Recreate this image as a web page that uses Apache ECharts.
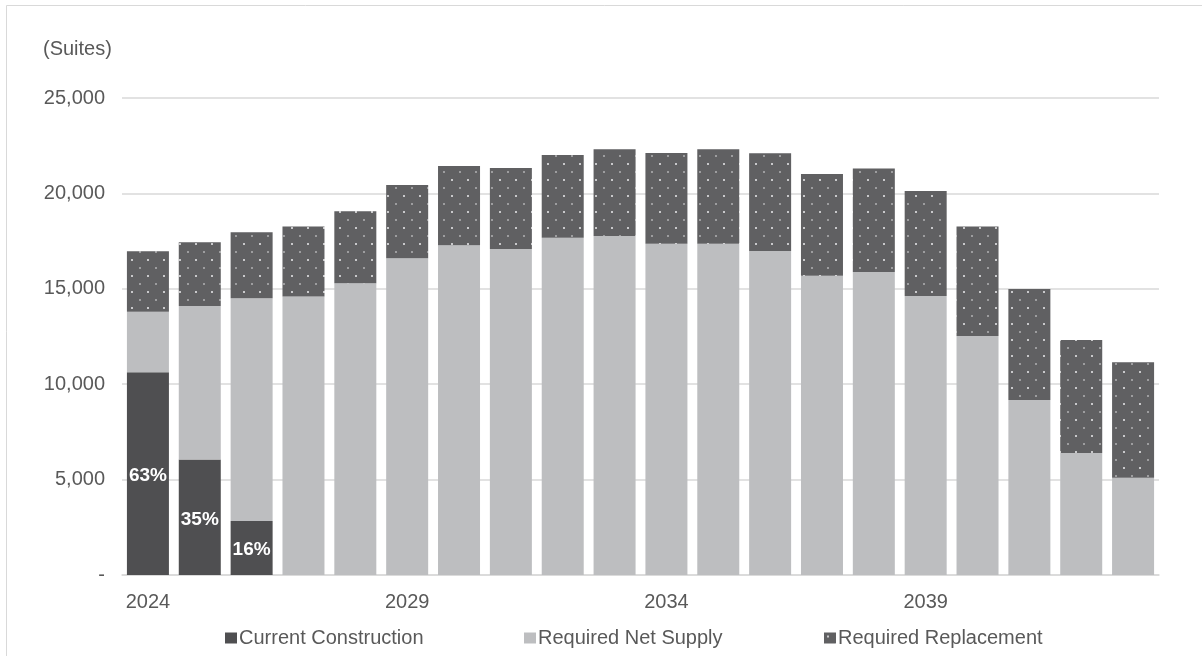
<!DOCTYPE html>
<html>
<head>
<meta charset="utf-8">
<script src="https://cdn.jsdelivr.net/npm/echarts@6/dist/echarts.min.js"></script>
<style>
  html, body { margin: 0; padding: 0; background: #fff; }
  #chart { width: 1202px; height: 656px; }
</style>
</head>
<body>
<div id="chart"></div>
<script>
const years = ['2024','2025','2026','2027','2028','2029','2030','2031','2032','2033','2034','2035','2036','2037','2038','2039','2040','2041','2042','2043'];
const currentConstruction = [10620, 6050, 2830, null, null, null, null, null, null, null, null, null, null, null, null, null, null, null, null, null];
const ccLabels = ['63%', '35%', '16%'];
const requiredNetSupply = [3180, 8050, 11670, 14590, 15290, 16600, 17280, 17090, 17680, 17770, 17360, 17360, 16980, 15690, 15880, 14620, 12530, 9170, 6390, 5100];
const requiredReplacement = [3170, 3340, 3460, 3670, 3770, 3840, 4160, 4240, 4330, 4540, 4760, 4950, 5120, 5330, 5430, 5510, 5730, 5820, 5930, 6050];
const yTicks = [0, 5000, 10000, 15000, 20000, 25000];

// dotted pattern tile
const tile = document.createElement('canvas');
tile.width = 16; tile.height = 16;
const g = tile.getContext('2d');
g.fillStyle = '#606062';
g.fillRect(0, 0, 16, 16);
g.fillStyle = '#c9c9cb';
g.fillRect(3, 3, 2, 2);
g.fillStyle = '#9d9d9f';
g.fillRect(11, 11, 2, 2);

const textColor = '#595959';
const font = 'Liberation Sans, Arial, sans-serif';

const chart = echarts.init(document.getElementById('chart'), null, { renderer: 'canvas' });

const legendBase = {
  bottom: 3,
  itemWidth: 12,
  itemHeight: 11,
  itemGap: 0,
  icon: 'rect',
  textStyle: { color: textColor, fontSize: 20, fontFamily: font, padding: [0, 0, 0, -3] }
};

chart.setOption({
  animation: false,
  backgroundColor: '#fff',
  graphic: [
    { type: 'rect', shape: { x: 6.5, y: 5.5, width: 1400, height: 1000 }, style: { fill: 'none', stroke: '#d9d9d9', lineWidth: 1 }, silent: true },
    { type: 'text', left: 43, top: 39, style: { text: '(Suites)', fill: textColor, font: '20px ' + font } }
  ],
  legend: [
    Object.assign({}, legendBase, { left: 220, data: ['Current Construction'] }),
    Object.assign({}, legendBase, { left: 519, data: ['Required Net Supply'] }),
    Object.assign({}, legendBase, { left: 819, data: ['Required Replacement'] })
  ],
  grid: { left: 122, right: 43, top: 98, bottom: 81, containLabel: false },
  xAxis: {
    type: 'category',
    data: years,
    axisLine: { lineStyle: { color: '#d9d9d9', width: 1.5 } },
    axisTick: { show: false },
    axisLabel: {
      interval: 4,
      color: textColor,
      fontSize: 20,
      fontFamily: font,
      margin: 17
    }
  },
  yAxis: {
    type: 'value',
    min: 0,
    max: 25000,
    interval: 5000,
    axisLine: { show: false },
    axisTick: { show: false },
    splitLine: { lineStyle: { color: '#d9d9d9', width: 1.5 } },
    axisLabel: {
      color: textColor,
      fontSize: 20,
      fontFamily: font,
      margin: 17,
      formatter: function (v) {
        if (yTicks.indexOf(v) < 0) return '';
        return v === 0 ? '-' : v.toLocaleString('en-US');
      }
    }
  },
  series: [
    {
      name: 'Current Construction',
      type: 'bar',
      stack: 'total',
      barCategoryGap: '19%',
      data: currentConstruction,
      itemStyle: { color: '#4f4f51' },
      label: {
        show: true,
        position: 'inside',
        color: '#ffffff',
        fontSize: 19,
        fontWeight: 'bold',
        fontFamily: 'Liberation Sans Narrow, Arial Narrow, Liberation Sans, sans-serif',
        offset: [0, 2],
        formatter: function (p) { return ccLabels[p.dataIndex] || ''; }
      }
    },
    {
      name: 'Required Net Supply',
      type: 'bar',
      stack: 'total',
      data: requiredNetSupply,
      itemStyle: { color: '#bdbec0' }
    },
    {
      name: 'Required Replacement',
      type: 'bar',
      stack: 'total',
      data: requiredReplacement,
      itemStyle: { color: { image: tile, repeat: 'repeat' } }
    }
  ]
});
</script>
</body>
</html>
